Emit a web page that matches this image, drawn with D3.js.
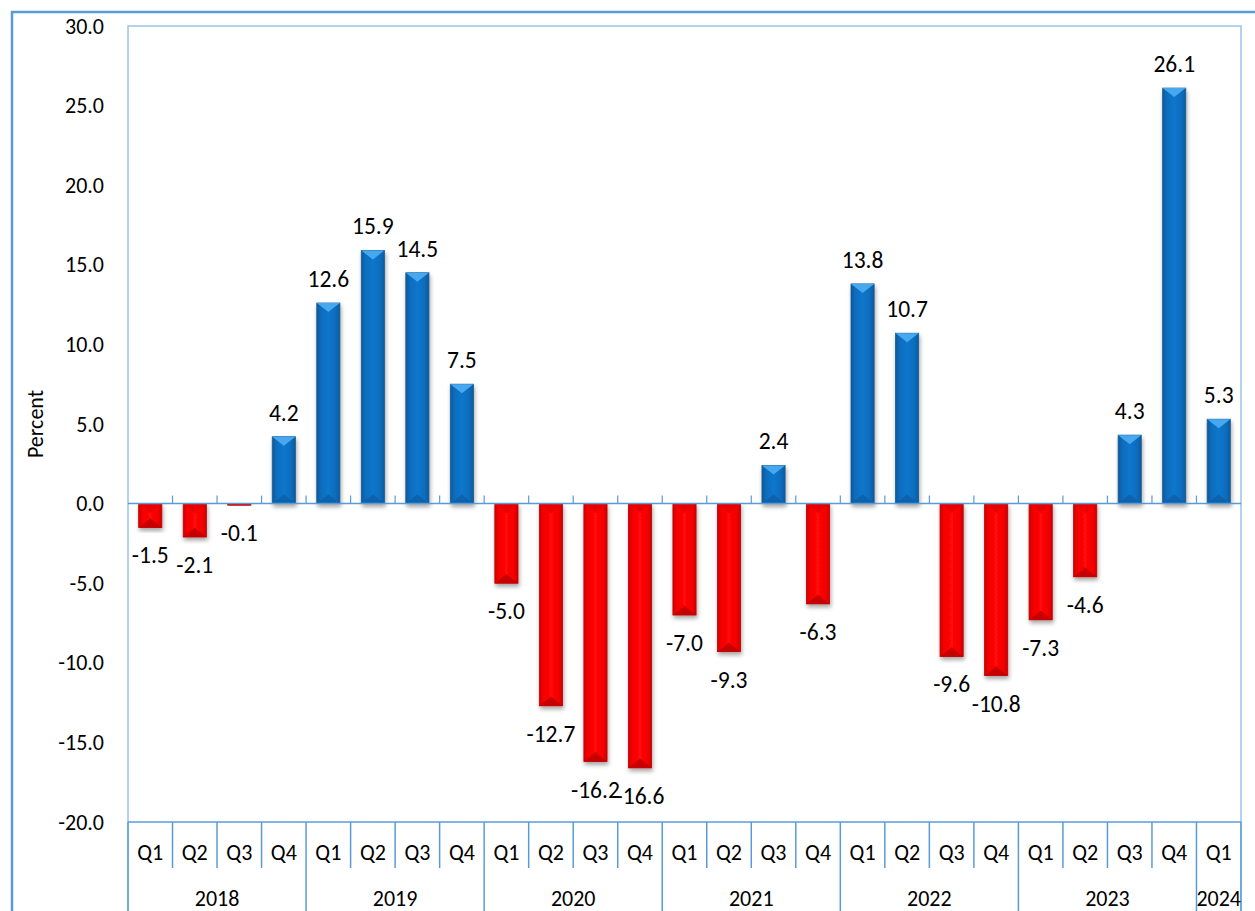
<!DOCTYPE html>
<html>
<head>
<meta charset="utf-8">
<script src="https://cdn.jsdelivr.net/npm/d3@7"></script>
<style>
  body { margin: 0; background: #fff; }
  svg text { font-family: Carlito, Lato, "Open Sans", sans-serif; fill: #000; }
</style>
</head>
<body>
<div id="chart"></div>
<script>
// Data
var years = ["2018", "2019", "2020", "2021", "2022", "2023", "2024"];
var quartersPerYear = [4, 4, 4, 4, 4, 4, 1];
var quarters = ["Q1","Q2","Q3","Q4","Q1","Q2","Q3","Q4","Q1","Q2","Q3","Q4",
                "Q1","Q2","Q3","Q4","Q1","Q2","Q3","Q4","Q1","Q2","Q3","Q4","Q1"];
var values = [-1.5, -2.1, -0.1, 4.2,
              12.6, 15.9, 14.5, 7.5,
              -5.0, -12.7, -16.2, -16.6,
              -7.0, -9.3, 2.4, -6.3,
              13.8, 10.7, -9.6, -10.8,
              -7.3, -4.6, 4.3, 26.1,
              5.3];
var yTicks = [-20, -15, -10, -5, 0, 5, 10, 15, 20, 25, 30];

// Layout
var W = 1255, H = 911;
var plot = {left: 128, right: 1241, top: 26, bottom: 822};
var axisColor = "#5b9bd5", borderColor = "#9dc3e6";
var axisFont = "22px", labelFont = "23.5px";

var svg = d3.select("#chart").append("svg")
    .attr("width", W)
    .attr("height", H);

var defs = svg.append("defs");

// horizontal shading for the bars
function hGrad(id, stops) {
  var g = defs.append("linearGradient").attr("id", id)
    .attr("x1", "0").attr("x2", "1").attr("y1", "0").attr("y2", "0");
  stops.forEach(function(s) {
    g.append("stop").attr("offset", s[0]).attr("stop-color", s[1]);
  });
}
hGrad("blueBody", [["0%", "#0a5a9c"], ["18%", "#0a6cbd"], ["50%", "#0c77cc"], ["82%", "#0a6cbd"], ["100%", "#0a5a9c"]]);
hGrad("redBody", [["0%", "#d40000"], ["18%", "#f40000"], ["50%", "#ff0808"], ["82%", "#f40000"], ["100%", "#d00000"]]);

var shadow = defs.append("filter").attr("id", "shadow")
    .attr("x", "-30%").attr("y", "-10%").attr("width", "160%").attr("height", "130%");
shadow.append("feDropShadow")
    .attr("dx", 1).attr("dy", 3).attr("stdDeviation", 2.2)
    .attr("flood-color", "#000").attr("flood-opacity", 0.35);

// Scales
var x = d3.scaleBand()
    .domain(d3.range(values.length))
    .range([plot.left, plot.right])
    .paddingInner(0.48)
    .paddingOuter(0.24);
var step = x.step();

var y = d3.scaleLinear()
    .domain([-20, 30])
    .range([plot.bottom, plot.top]);

// Outer frame
svg.append("rect")
    .attr("x", 12).attr("y", 12)
    .attr("width", W + 40).attr("height", H + 40)
    .attr("fill", "none")
    .attr("stroke", axisColor)
    .attr("stroke-width", 2.5);

// Plot area border
svg.append("path")
    .attr("d", "M" + plot.left + "," + H + "V" + plot.top + "H" + plot.right + "V" + H)
    .attr("fill", "none")
    .attr("stroke", borderColor)
    .attr("stroke-width", 1.5);

// Y axis labels
var yAxis = svg.append("g")
    .attr("transform", "translate(" + plot.left + ",0)")
    .call(d3.axisLeft(y).tickValues(yTicks).tickSize(0).tickPadding(24)
      .tickFormat(function(d) { return d.toFixed(1); }));
yAxis.select(".domain").remove();
yAxis.selectAll("text")
    .style("font-size", axisFont)
    .style("font-family", "Carlito, Lato, 'Open Sans', sans-serif")
    .attr("fill", "#000");

svg.append("text")
    .attr("transform", "translate(43," + ((plot.top + plot.bottom) / 2) + ") rotate(-90)")
    .attr("text-anchor", "middle")
    .style("font-size", axisFont)
    .text("Percent");

// Bars
var bars = svg.append("g").selectAll("g")
    .data(values)
    .join("g")
    .attr("filter", "url(#shadow)");

bars.each(function(v, i) {
  var g = d3.select(this);
  var x0 = x(i), bw = x.bandwidth(), xc = x0 + bw / 2;
  var top = y(Math.max(0, v)), bot = y(Math.min(0, v));
  var h = Math.max(bot - top, 1);
  var pos = v >= 0;
  g.append("rect")
    .attr("x", x0).attr("y", top)
    .attr("width", bw).attr("height", h)
    .attr("fill", pos ? "url(#blueBody)" : "url(#redBody)")
    .attr("stroke", pos ? "#1f5a8e" : "#b80000")
    .attr("stroke-width", 0.8);
  var d = Math.min(9, h / 2);
  // bevel facets
  g.append("path")
    .attr("d", "M" + x0 + "," + top + "H" + (x0 + bw) + "L" + xc + "," + (top + d) + "Z")
    .attr("fill", pos ? "#46a8f0" : "#e80000");
  g.append("path")
    .attr("d", "M" + x0 + "," + (top + h) + "H" + (x0 + bw) + "L" + xc + "," + (top + h - d) + "Z")
    .attr("fill", pos ? "#0a62ad" : "#c60000");
});

// Zero line with ticks at category boundaries
var y0 = y(0);
svg.append("line")
    .attr("x1", plot.left).attr("x2", plot.right)
    .attr("y1", y0).attr("y2", y0)
    .attr("stroke", axisColor).attr("stroke-width", 1.5);
svg.append("g").selectAll("line")
    .data(d3.range(1, values.length))
    .join("line")
    .attr("x1", function(i) { return plot.left + i * step; })
    .attr("x2", function(i) { return plot.left + i * step; })
    .attr("y1", y0 - 8).attr("y2", y0)
    .attr("stroke", axisColor).attr("stroke-width", 1.2);

// Data labels
svg.append("g").selectAll("text")
    .data(values)
    .join("text")
    .attr("x", function(v, i) { return x(i) + x.bandwidth() / 2; })
    .attr("y", function(v) { return v >= 0 ? y(v) - 16 : y(v) + 36; })
    .attr("text-anchor", "middle")
    .style("font-size", labelFont)
    .text(function(v) { return v.toFixed(1); });

// Category axis: quarters then years
svg.append("line")
    .attr("x1", plot.left).attr("x2", plot.right)
    .attr("y1", plot.bottom).attr("y2", plot.bottom)
    .attr("stroke", axisColor).attr("stroke-width", 1.5);

var yearStarts = [0];
quartersPerYear.forEach(function(n, k) { yearStarts.push(yearStarts[k] + n); });

svg.append("g").selectAll("line")
    .data(d3.range(0, values.length + 1))
    .join("line")
    .attr("x1", function(i) { return plot.left + i * step; })
    .attr("x2", function(i) { return plot.left + i * step; })
    .attr("y1", plot.bottom)
    .attr("y2", function(i) { return yearStarts.indexOf(i) >= 0 ? H : 868; })
    .attr("stroke", axisColor).attr("stroke-width", 1.5);

var qAxis = svg.append("g")
    .attr("transform", "translate(0," + plot.bottom + ")")
    .call(d3.axisBottom(x).tickSize(0).tickPadding(22)
      .tickFormat(function(i) { return quarters[i]; }));
qAxis.select(".domain").remove();
qAxis.selectAll("text")
    .style("font-size", axisFont)
    .style("font-family", "Carlito, Lato, 'Open Sans', sans-serif")
    .attr("fill", "#000");

svg.append("g").selectAll("text")
    .data(years)
    .join("text")
    .attr("x", function(d, k) { return plot.left + (yearStarts[k] + yearStarts[k + 1]) / 2 * step; })
    .attr("y", 906)
    .attr("text-anchor", "middle")
    .style("font-size", axisFont)
    .text(function(d) { return d; });
</script>
</body>
</html>
